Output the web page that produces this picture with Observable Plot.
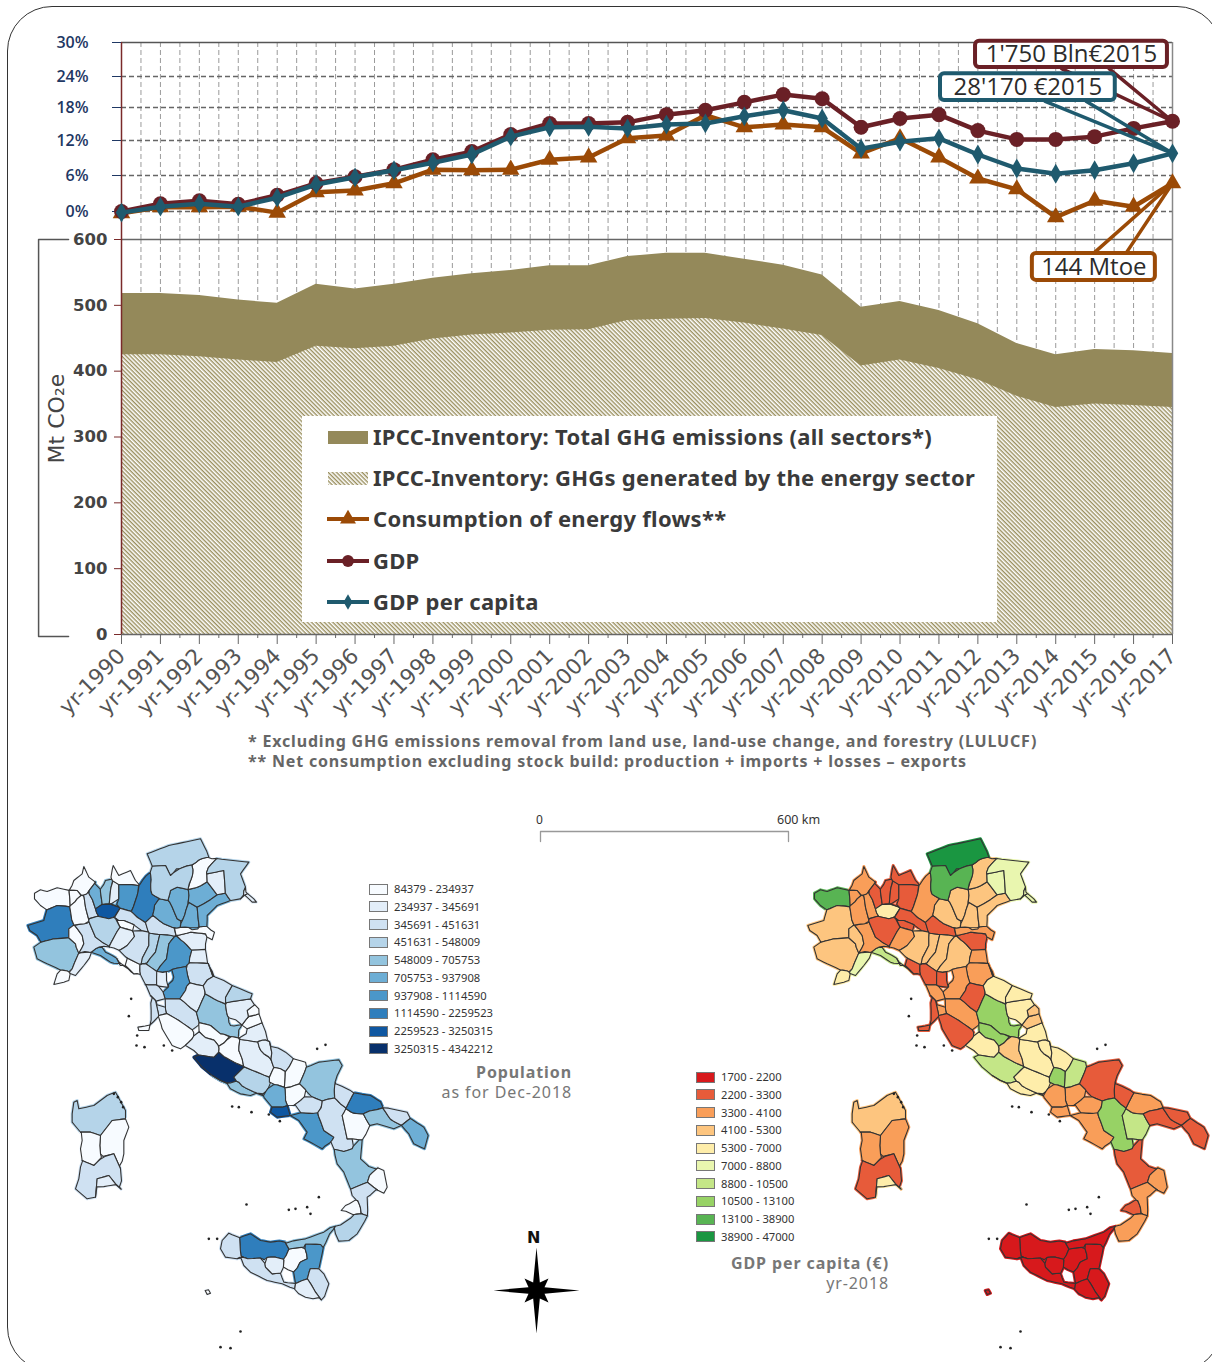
<!DOCTYPE html>
<html><head><meta charset="utf-8">
<script src="https://cdn.jsdelivr.net/npm/d3@7"></script>
<script src="https://cdn.jsdelivr.net/npm/@observablehq/plot@0.6"></script>
<style>
html,body{margin:0;padding:0;background:#fff;width:1212px;height:1362px;overflow:hidden;font-family:"Noto Sans",sans-serif}
#page{position:relative;width:1212px;height:1362px;overflow:hidden}
#frame{position:absolute;left:7px;top:6px;width:1215px;height:1366px;border:1.5px solid #333;border-radius:45px;box-sizing:border-box}
.layer{position:absolute}
.layer svg{background:transparent;overflow:visible;display:block}
.t{position:absolute;white-space:nowrap}
.sw{position:absolute;width:19px;height:11px;border:1px solid #777;box-sizing:border-box}
</style></head><body><div id="page"><div id="frame"></div></div>
<script>
const years=[1990,1991,1992,1993,1994,1995,1996,1997,1998,1999,2000,2001,2002,2003,2004,2005,2006,2007,2008,2009,2010,2011,2012,2013,2014,2015,2016,2017];
const gdp=[0,1.3,1.8,1.2,2.7,4.7,5.8,7.0,8.7,10.1,13.1,15.1,15.1,15.3,16.7,17.5,19.0,20.5,19.7,14.4,16.0,16.7,13.8,12.2,12.2,12.7,14.2,15.5];
const gdpPerCapita=[-0.2,0.8,1.3,0.8,2.3,4.5,5.7,6.9,8.2,9.6,12.7,14.4,14.5,14.2,14.9,15.1,16.4,17.5,16.0,10.6,11.8,12.4,9.6,7.2,6.3,6.9,8.1,9.8];
const energyUse=[-0.3,0.7,0.7,0.8,-0.2,3.2,3.5,4.7,7.0,6.9,7.0,8.7,9.1,12.4,12.9,16.6,14.4,14.9,14.4,9.8,12.4,9.1,5.5,3.7,-1.0,1.8,0.8,4.7];
const totalGhg=[518,518,515,508,503,532,525,532,541,548,553,560,560,574,579,579,570,561,546,497,506,492,472,442,425,433,431,427];
const energyGhg=[425,425,422,417,413,438,434,438,449,455,458,462,463,477,479,480,473,464,454,408,417,404,387,362,345,350,348,345];
const pctTicks=[0,6,12,18,24,30];
const mtTicks=[0,100,200,300,400,500,600];
const gridYears=years.flatMap((y,i)=>i<years.length-1?[y,y+0.5]:[y]);
const series=[{name:"Consumption of energy flows**",values:energyUse,color:"#9b4a06",symbol:"triangle",r:6.5},
 {name:"GDP",values:gdp,color:"#6a2026",symbol:"circle",r:7.5},
 {name:"GDP per capita",values:gdpPerCapita,color:"#1f5a6e",symbol:"diamond",r:6}];
const legendRows=[["IPCC-Inventory: Total GHG emissions (all sectors*)","area"],["IPCC-Inventory: GHGs generated by the energy sector","hatch"],
 ["Consumption of energy flows**",series[0]],["GDP",series[1]],["GDP per capita",series[2]]];
const callouts=[
 {text:"1'750 Bln€2015",color:"#6a2026",x1:2011.94,x2:2016.87,y1:25.6,y2:30.2,wedge:[[2014.15,25.4],[2017,15.5],[2015.37,25.4]]},
 {text:"28'170 €2015",color:"#1f5a6e",x1:2011.04,x2:2015.53,y1:19.35,y2:24.5,wedge:[[2013.73,19.2],[2017,9.8],[2014.78,19.2]]},
 {text:"144 Mtoe",color:"#9b4a06",x1:2013.4,x2:2016.56,y1:-12.3,y2:-7.5,wedge:[[2015.0,-7.3],[2017,4.7],[2015.82,-7.3]]}];
const footnotes=["* Excluding GHG emissions removal from land use, land-use change, and forestry (LULUCF)","** Net consumption excluding stock build: production + imports + losses – exports"];

const popLegend=["84379 - 234937","234937 - 345691","345691 - 451631","451631 - 548009","548009 - 705753","705753 - 937908","937908 - 1114590","1114590 - 2259523","2259523 - 3250315","3250315 - 4342212"];
const popColors=["#f7fbff","#e3eef9","#cfe1f2","#b5d4e9","#93c4de","#6daed5","#4b97c9","#2f7ebc","#0f57a1","#08306b"];
const gdpLegend=["1700 - 2200","2200 - 3300","3300 - 4100","4100 - 5300","5300 - 7000","7000 - 8800","8800 - 10500","10500 - 13100","13100 - 38900","38900 - 47000"];
const gdpColors=["#d7191c","#e75b3a","#f99e59","#fdc57f","#feedaa","#e9f6af","#c4e687","#97d265","#58b453","#1a9641"];

// province outlines: [name, population class, GDP class, x,y pairs]
const north=[
["Aosta",0,8,[42,188,60,178,80,183,110,172,140,178,148,205,145,228,110,225,80,237,60,225,42,205]],
["Torino",7,3,[22,285,70,270,78,240,110,225,145,228,152,255,155,282,145,295,145,322,100,325,60,335,50,315,28,300]],
["Cuneo",4,3,[40,350,62,335,100,325,145,322,165,340,172,372,155,415,120,418,80,400,50,385]],
["Imperia",0,4,[100,462,110,430,125,418,150,432,145,450,130,455]],
["Savona",1,5,[150,432,155,415,172,372,205,365,215,372,190,405,165,435]],
["Genova",5,6,[205,365,235,350,255,365,285,380,300,405,270,395,240,375,215,372]],
["La Spezia",0,5,[290,383,320,410,340,430,325,432,300,405]],
["Massa",0,1,[315,378,350,405,360,432,340,430,320,410]],
["Asti",0,3,[145,322,145,295,160,290,185,315,190,340,178,365,172,372,165,340]],
["Alessandria",2,2,[170,285,205,280,225,320,265,350,235,350,205,365,178,365,190,340,185,315]],
["VCO",0,2,[150,178,160,150,185,130,190,108,205,140,225,155,205,180,190,195,170,180]],
["Biella",0,2,[145,180,170,180,170,205,150,232,148,205]],
["Vercelli",0,2,[170,205,190,195,195,230,205,278,155,278,152,255,150,232]],
["Novara",2,2,[190,195,205,180,225,235,235,258,205,265,195,230]],
["Varese",5,1,[208,180,225,155,240,185,245,220,225,235]],
["Milano",8,4,[225,235,245,225,300,232,285,250,265,265,235,258]],
["Como",4,1,[245,220,240,185,255,150,270,140,270,180,265,215]],
["Lecco",1,1,[270,180,280,150,295,160,295,205,268,218]],
["Monza",5,1,[245,222,268,215,298,228,270,228]],
["Sondrio",0,1,[270,140,278,105,295,135,330,120,345,150,358,160,295,160,280,150]],
["Bergamo",6,1,[295,165,358,165,350,195,335,240,300,232,295,205]],
["Brescia",7,2,[358,160,385,125,395,145,388,190,418,205,402,225,400,255,375,275,345,255,325,240,335,240,350,195]],
["Cremona",2,1,[280,262,300,240,330,245,370,280,395,305,380,300,340,280,310,270]],
["Lodi",0,1,[280,262,310,270,340,285,335,295,310,295]],
["Pavia",3,1,[205,265,235,258,265,265,280,262,298,290,270,340,265,350,225,320]],
["Piacenza",1,2,[295,292,330,300,342,318,320,345,300,358,270,350,272,335]],
["Parma",2,3,[300,358,320,345,342,318,345,302,385,310,385,345,360,395,325,385,295,365]],
["Reggio E.",3,3,[385,310,418,312,405,365,375,400,358,395,385,345]],
["Modena",4,3,[418,312,465,310,445,340,438,385,410,418,390,405,375,400,405,365]],
["Bologna",6,3,[465,315,490,335,515,355,505,395,478,410,445,420,425,425,410,418,438,385,445,340]],
["Mantova",2,1,[378,270,395,255,430,280,475,310,465,318,418,312,385,305]],
["Ferrara",1,1,[465,318,510,305,555,310,555,355,515,360,490,335]],
["Rovigo",0,2,[465,295,490,290,530,295,560,292,582,305,575,328,555,310,510,305,465,318]],
["Verona",5,3,[400,255,402,225,418,205,450,218,470,265,478,290,430,280,395,255]],
["Vicenza",5,3,[450,180,470,170,505,180,498,220,490,265,470,265,450,218]],
["Padova",5,3,[490,265,505,215,530,230,535,285,480,290]],
["Treviso",5,3,[510,185,560,158,590,195,550,220,530,230,505,215]],
["Venezia",5,3,[530,230,550,220,590,195,615,190,630,210,590,225,560,255,560,280,535,290]],
["Belluno",0,3,[500,175,515,130,535,85,590,80,555,120,560,150,540,165]],
["Pordenone",1,5,[560,130,610,120,615,185,590,190,560,150]],
["Udine",3,5,[590,85,685,95,660,130,675,170,660,205,630,210,615,190,610,120,560,130,555,120]],
["Gorizia",1,5,[660,205,675,170,682,190,665,205]],
["Trieste",1,5,[682,190,700,205,708,215,695,215,680,200]],
["Bolzano",3,9,[380,70,445,45,540,25,565,75,510,100,465,110,450,135,435,105,395,105]],
["Trento",3,8,[395,110,435,105,450,135,510,105,520,135,500,175,470,170,450,180,435,212,395,190,388,160]],
["Ravenna",1,2,[510,360,555,358,562,398,535,400,505,395]],
["Forli",2,2,[500,405,530,395,562,398,578,440,555,445,540,470,500,450]],
["Rimini",1,2,[565,400,585,420,590,440,578,440]]];
const centre=[
["Lucca",2,1,[30,20,40,10,80,40,80,75,45,70,30,45]],
["Pistoia",1,1,[75,40,108,35,108,72,80,75]],
["Firenze",6,2,[125,25,165,22,178,60,165,90,145,115,100,115,95,95,120,80,130,50]],
["Pisa",2,2,[40,75,80,75,98,95,100,115,85,120,108,160,85,165,75,120,60,105]],
["Livorno",2,1,[60,105,75,120,85,165,62,192,62,150]],
["Siena",2,2,[108,115,145,115,165,125,195,160,205,188,185,208,145,180,110,158]],
["Grosseto",0,1,[85,165,108,160,145,180,185,208,190,230,170,250,150,265,125,255,95,205]],
["Arezzo",1,1,[165,75,200,70,225,85,215,120,200,155,170,135,150,115,165,90]],
["Perugia",4,7,[225,100,250,115,285,135,285,165,300,195,332,200,310,225,270,220,240,195,205,180,200,155,215,120]],
["Terni",0,7,[205,190,240,195,270,220,300,225,270,255,250,235,225,230,205,210]],
["Viterbo",1,4,[165,255,205,215,225,235,250,240,265,275,250,292,215,285,190,270]],
["Roma",9,6,[190,290,215,285,250,290,268,272,280,288,340,320,310,350,325,365,290,368,270,360,245,345,215,320]],
["Latina",4,4,[245,345,270,360,290,368,325,365,335,380,375,400,400,410,360,405,330,400,300,385]],
["Frosinone",3,4,[340,320,380,340,415,355,408,390,380,395,335,375,310,350]],
["Rieti",0,3,[270,255,328,225,325,270,345,320,320,310,280,288,265,275]],
["L'Aquila",1,4,[325,235,380,245,385,265,420,300,430,320,415,345,380,330,345,320,325,270]],
["Teramo",1,4,[347,220,350,205,395,188,415,238,385,240,380,245,325,235]],
["Ascoli",0,3,[335,190,350,175,385,160,395,185,350,205]],
["Fermo",0,3,[350,172,350,150,380,132,390,158]],
["Macerata",1,4,[295,120,310,125,360,115,370,130,350,150,350,172,335,190,295,165,285,135]],
["Ancona",3,4,[285,130,285,110,305,75,365,100,360,115,310,120]],
["Pesaro",2,4,[225,75,240,50,255,45,305,75,285,110,285,130,250,115,225,100]],
["Pescara",1,4,[385,240,415,238,425,290,420,298,390,270]],
["Chieti",2,4,[420,250,465,275,490,295,470,330,425,315,428,290]],
["Isernia",0,7,[428,325,450,325,465,350,455,375,420,365]],
["Campobasso",0,6,[488,295,525,305,525,325,505,370,465,385,465,345,470,330]],
["Foggia",4,1,[530,320,565,305,625,298,635,315,620,345,610,390,610,410,565,418,525,385,510,370]],
["Benevento",0,2,[465,385,505,370,525,390,520,415,490,435,465,420]],
["Caserta",5,2,[415,385,440,375,465,385,465,420,470,440,425,440,400,410]],
["Napoli",8,2,[425,440,470,440,478,465,440,470,420,455]],
["Avellino",2,2,[520,410,565,418,580,435,560,465,520,455,490,435]]];
const south=[
["Salerno",6,2,[120,225,165,220,195,215,220,270,250,290,215,325,180,305,160,295,170,275,145,240]],
["Potenza",2,7,[205,210,220,180,262,175,285,205,275,225,290,295,305,290,305,325,280,333,245,320,250,290,220,270]],
["Matera",0,6,[285,210,340,225,358,255,340,295,305,295,290,295,275,225]],
["Bari",7,2,[310,158,360,165,400,190,390,205,345,212,305,222,288,200]],
["BAT",2,1,[250,125,310,155,288,198,265,195,255,170]],
["Taranto",4,1,[345,215,395,205,420,240,455,258,430,265,380,250,358,255,340,225]],
["Brindisi",2,1,[400,200,470,215,480,232,450,250,420,235]],
["Lecce",5,1,[480,235,520,260,533,285,522,325,490,310,475,280,455,258]],
["Cosenza",4,1,[250,330,280,333,305,325,335,300,330,355,355,378,382,378,355,405,350,425,300,445,280,395,260,370]],
["Crotone",0,2,[382,385,400,390,410,440,400,458,378,445,352,428,358,405]],
["Vibo",0,1,[272,510,285,495,320,480,330,525,300,515]],
["Catanzaro",2,2,[300,448,350,425,380,450,350,470,352,522,340,510,325,480,305,465]],
["Reggio C.",3,2,[260,560,290,540,320,520,350,530,320,580,295,600,265,602,255,580]],
["Palermo",7,0,[-30,590,0,580,30,600,60,605,100,600,112,625,105,655,75,650,60,645,30,650,-5,655,-30,640]],
["Trapani",2,0,[-85,600,-65,578,-35,592,-30,640,-10,655,-35,655,-75,650,-90,625]],
["Agrigento",2,0,[-40,655,-5,655,30,655,45,680,65,700,90,700,100,725,135,730,130,745,95,730,50,720,0,695]],
["Caltanissetta",1,0,[50,655,75,650,100,660,95,695,65,700,45,680]],
["Enna",0,0,[100,655,120,625,165,628,170,655,145,665,145,690,125,695,100,680]],
["Messina",4,0,[105,605,165,595,220,575,248,555,220,620,210,612,165,610,115,625]],
["Catania",6,0,[165,612,210,612,218,625,205,685,180,680,165,710,135,728,130,690,150,665,172,655]],
["Siracusa",2,0,[180,685,205,685,220,700,235,730,218,780,195,755,175,720]],
["Ragusa",1,0,[135,730,165,720,175,720,195,755,210,780,165,770,135,755]]];
const island=[
["Sassari",3,3,[215,850,220,815,230,810,235,835,280,825,320,795,345,785,375,840,375,865,335,870,300,915,270,905,240,905,215,875]],
["Nuoro",0,2,[300,915,335,870,375,865,385,890,370,930,370,970,360,1015,340,970,300,970,298,945]],
["Oristano",0,2,[240,905,270,905,300,915,298,945,300,970,280,1005,245,990,240,955,245,930]],
["Sud Sardegna",2,1,[245,990,280,1005,340,970,360,1015,365,1075,345,1060,325,1035,290,1045,285,1100,260,1105,225,1075,235,1045,240,1010]],
["Cagliari",1,4,[290,1045,325,1035,345,1060,360,1078,330,1065,300,1070,285,1100]],
["Elba",0,1,[412,590,445,585,445,600,415,600]],
["Pantelleria",0,0,[614,1380,624,1378,630,1388,620,1392]]];
const islets=[[392,505],[385,557],[410,615],[408,645],[432,650],[490,645],[515,660],[950,655],[975,643],[695,828],[715,830],[753,845],[805,852],[838,872],[738,1122],[865,1138],[885,1135],[955,1100],[920,1130],[930,1150],[625,1225],[650,1225],[720,1503],[690,1553],[660,1550],[340,790],[352,800],[362,815],[368,830]];
const compass=[0,-129,10,-24,36,-36,24,-10,129,0,24,10,36,36,10,24,0,129,-10,24,-36,36,-24,10,-129,0,-24,-10,-36,-36,-10,-24];
const frames={north:[20,830],centre:[130,960],south:[250,1040],island:[0,830],compass:[536,1290]};

const toPts=(flat,f)=>{const r=[];for(let i=0;i<flat.length;i+=2)r.push([f[0]+flat[i]/3,f[1]+flat[i+1]/3]);return r;};
// neighbouring outlines were read separately: close the small gaps between them so that they share a border
const densify=(pts,step)=>pts.flatMap((p,i)=>{const q=pts[(i+1)%pts.length],n=Math.max(1,Math.ceil(Math.hypot(q[0]-p[0],q[1]-p[1])/step));
 return Array.from({length:n},(_,k)=>[p[0]+(q[0]-p[0])*k/n,p[1]+(q[1]-p[1])*k/n]);});
const nearest=(p,ring)=>{let best=null,bd=Infinity;for(let i=0;i<ring.length;i++){const a=ring[i],b=ring[(i+1)%ring.length],dx=b[0]-a[0],dy=b[1]-a[1],t=Math.max(0,Math.min(1,((p[0]-a[0])*dx+(p[1]-a[1])*dy)/(dx*dx+dy*dy||1))),x=a[0]+t*dx,y=a[1]+t*dy,d=Math.hypot(p[0]-x,p[1]-y);if(d<bd){bd=d;best=[x,y];}}return [best,bd];};
const weld=(rings,tol,rounds)=>{for(let r=0;r<rounds;r++){const old=rings.map(g=>g.map(p=>p.slice()));
 old.forEach((g,gi)=>g.forEach((p,pi)=>{let sx=p[0],sy=p[1],n=1;old.forEach((h,hi)=>{if(hi===gi)return;const [q,d]=nearest(p,h);if(d<tol){sx+=q[0];sy+=q[1];n++;}});rings[gi][pi]=[sx/n,sy/n];}));}return rings;};
const source=[...north.map(d=>[d,frames.north]),...centre.map(d=>[d,frames.centre]),...south.map(d=>[d,frames.south]),...island.map(d=>[d,frames.island])];
const welded=weld(source.map(([d,f])=>densify(toPts(d[3],f),5)),4.5,3);
const features=source.map(([d],i)=>({type:"Feature",properties:{name:d[0],pop:d[1],gd:d[2]},geometry:{type:"Polygon",coordinates:[[...welded[i],welded[i][0]]]}}));
const isletPts=islets.map(([x,y])=>[frames.island[0]+x/3,frames.island[1]+y/3]);

const page=document.getElementById("page");
const add=(el,left,topPx)=>{const d=document.createElement("div");d.className="layer";d.style.left=left+"px";d.style.top=topPx+"px";d.appendChild(el);page.appendChild(d);return d;};
const label=(s,css)=>{const d=document.createElement("div");d.className="t";d.textContent=s;d.style.cssText+=css;page.appendChild(d);return d;};
const rows=(arr)=>years.map((y,i)=>({year:y,value:arr[i]}));
const tbl=years.map((y,i)=>({year:y,total:totalGhg[i],energy:energyGhg[i]}));

const hatchDefs=()=>{const s=d3.create("svg:defs");
 const p=s.append("pattern").attr("id","hatch").attr("patternUnits","userSpaceOnUse").attr("width",3).attr("height",3).attr("patternTransform","rotate(45)");
 p.append("rect").attr("width",3).attr("height",3).attr("fill","#fff");
 p.append("rect").attr("width",3).attr("height",1.4).attr("fill","#9a8f5e");
 return s.node();};

// bottom panel: emissions
const xDomain=[1990,2017], xRange=[121,1172];
const bottomPlot=Plot.plot({width:1212,height:720,marginLeft:121,marginRight:40,marginTop:239,marginBottom:86,
 style:{background:"transparent",overflow:"visible"},
 x:{domain:xDomain,range:xRange},y:{domain:[0,600]},
 marks:[hatchDefs,
  Plot.ruleX(gridYears,{stroke:"#9a9a9a",strokeDasharray:"5,3",strokeWidth:1}),
  Plot.areaY(tbl,{x:"year",y:"total",fill:"#94895a"}),
  Plot.areaY(tbl,{x:"year",y:"energy",fill:"url(#hatch)"}),
  Plot.ruleY([0],{stroke:"#666",strokeWidth:1.5}),
  Plot.ruleY([600],{stroke:"#666",strokeWidth:1.5}),
  Plot.ruleX([2017],{stroke:"#888",strokeWidth:1.5}),
  Plot.ruleX([1990],{stroke:"#7a2a2a",strokeWidth:1.5}),
  Plot.axisY({ticks:mtTicks,tickSize:7,tickPadding:7,fontSize:16.5,fontWeight:"bold",stroke:"#7a2a2a",fill:"#444",fontFamily:"DejaVu Sans",label:null}),
  Plot.axisX({ticks:gridYears.filter(d=>d%1),tickSize:4,stroke:"#666",text:null,label:null}),
  Plot.axisX({ticks:years,tickSize:10,stroke:"#666",tickRotate:-45,tickFormat:d=>"yr-"+d,fontSize:21.5,fill:"#555",fontFamily:"DejaVu Sans",tickPadding:8,label:null}),
  Plot.line([[1988.64,600],[1987.87,600],[1987.87,-3],[1988.64,-3]],{stroke:"#555",strokeWidth:1.5}),
  Plot.text(["Mt CO₂e"],{x:1988.33,y:328,rotate:-90,fontSize:22,fill:"#444",fontFamily:"DejaVu Sans"})
 ]});
add(bottomPlot,0,0);

// top panel: percentage changes
const topPlot=Plot.plot({width:1212,height:289,marginLeft:121,marginRight:40,marginTop:42,marginBottom:50,
 style:{background:"transparent",overflow:"visible"},
 x:{domain:xDomain,range:xRange,axis:null},y:{type:"linear",domain:[-5,0,6,12,18,24,30],range:[239,211,175,140,107,76,42]},
 marks:[
  Plot.ruleX(gridYears,{y1:-5,y2:30,stroke:"#9a9a9a",strokeDasharray:"5,3",strokeWidth:1}),
  Plot.ruleY(pctTicks.slice(0,-1),{stroke:"#666",strokeDasharray:"5,3",strokeWidth:1.3}),
  Plot.ruleY([30],{stroke:"#555",strokeWidth:1.5}),
  Plot.ruleX([2017],{y1:-5,y2:30,stroke:"#888",strokeWidth:1.5}),
  Plot.ruleX([1990],{y1:-5,y2:30,stroke:"#7a2a2a",strokeWidth:1.5}),
  Plot.axisY({ticks:pctTicks,tickSize:9,tickPadding:24,tickFormat:d=>d+"%",fontSize:16,fontWeight:600,stroke:"#1f3864",fill:"#1f3864",fontFamily:"Open Sans",label:null}),
  ...series.flatMap(s=>[
   Plot.line(rows(s.values),{x:"year",y:"value",stroke:s.color,strokeWidth:4.5}),
   Plot.dot(rows(s.values),{x:"year",y:"value",fill:s.color,symbol:s.symbol,r:s.r})]),
  ...callouts.flatMap(c=>[
   Plot.line(c.wedge,{stroke:c.color,strokeWidth:3.5}),
   Plot.rect([c],{x1:"x1",x2:"x2",y1:"y1",y2:"y2",fill:"#fff",stroke:c.color,strokeWidth:4,rx:4}),
   Plot.text([c],{x:d=>(d.x1+d.x2)/2,y:d=>(d.y1+d.y2)/2,text:"text",fontSize:24,fill:"#2b2b2b",fontFamily:"Open Sans",letterSpacing:"1.9px"})])
 ]});
add(topPlot,0,0);

// legend of the chart
const lg=document.createElement("div");
lg.style.cssText="position:absolute;left:302px;top:416px;width:695px;height:206px;background:#fff";
page.appendChild(lg);
legendRows.forEach(([name,kind],i)=>{
 const cy=21+i*41.2;
 const svgNS="http://www.w3.org/2000/svg";
 const s=document.createElementNS(svgNS,"svg");
 s.setAttribute("width",44);s.setAttribute("height",24);
 s.style.cssText=`position:absolute;left:25px;top:${cy-12}px`;
 if(kind==="area"||kind==="hatch"){
  const r=document.createElementNS(svgNS,"rect");
  r.setAttribute("x",1);r.setAttribute("y",6);r.setAttribute("width",40);r.setAttribute("height",13);
  r.setAttribute("fill",kind==="area"?"#94895a":"url(#hatch)");s.appendChild(r);
 } else {
  const l=document.createElementNS(svgNS,"line");
  l.setAttribute("x1",0);l.setAttribute("x2",42);l.setAttribute("y1",12);l.setAttribute("y2",12);
  l.setAttribute("stroke",kind.color);l.setAttribute("stroke-width",4);s.appendChild(l);
  const m=document.createElementNS(svgNS,"path");
  const sym={triangle:d3.symbolTriangle,circle:d3.symbolCircle,diamond:d3.symbolDiamond}[kind.symbol];
  m.setAttribute("d",d3.symbol(sym,kind.symbol==="diamond"?70:110)());m.setAttribute("transform","translate(21,12)");m.setAttribute("fill",kind.color);s.appendChild(m);
 }
 lg.appendChild(s);
 const t=document.createElement("div");t.className="t";t.textContent=name;
 t.style.cssText=`position:absolute;left:71px;top:${cy-16}px;font:bold 22px/30px "Noto Sans";color:#3a3a3a;letter-spacing:.28px`;
 lg.appendChild(t);
});

footnotes.forEach((f,i)=>label(f,`left:248px;top:${731+i*20}px;font:bold 16px/20px "Noto Sans";color:#666;letter-spacing:.82px`));

// maps
const transform=()=>d3.geoTransform({point(x,y){this.stream.point(x,y-800);}});
const mapPlot=(legend,colors,key,extra,w)=>Plot.plot({width:w,height:562,margin:0,projection:transform,
 style:{background:"transparent",overflow:"visible"},
 color:{type:"ordinal",domain:legend,range:colors},
 marks:[
  Plot.geo(features,{fill:d=>legend[d.properties[key]],stroke:d=>legend[d.properties[key]],strokeWidth:3}),
  Plot.geo(features,{fill:d=>legend[d.properties[key]],stroke:"#333",strokeWidth:1.1}),
  Plot.dot(isletPts,{x:d=>d[0],y:d=>d[1],r:1.3,fill:"#222"}),
  ...extra]});
const star={type:"Feature",geometry:{type:"Polygon",coordinates:[[...toPts(compass,frames.compass),toPts(compass,frames.compass)[0]]]}};
add(mapPlot(popLegend,popColors,"pop",[Plot.geo([star],{fill:"#000"})],600),0,800);
add(mapPlot(gdpLegend,gdpColors,"gd",[],432),780,800);
label("N",`left:527px;top:1228px;font:bold 16px/20px "DejaVu Sans";color:#111`);

// scale bar
const bar=Plot.plot({width:280,height:40,margin:0,marginLeft:10,marginRight:22,style:{background:"transparent",overflow:"visible"},
 x:{domain:[0,600],axis:null},y:{domain:[1,0],range:[21,11],axis:null},
 marks:[Plot.line([[0,1],[0,0],[600,0],[600,1]],{stroke:"#999",strokeWidth:1.3})]});
add(bar,530,820);
label("0","left:536px;top:812px;font:12px/16px 'Noto Sans';color:#333");
label("600 km","left:777px;top:812px;font:12.5px/16px 'Noto Sans';color:#333");

const mapLegend=(legend,colors,left,topPx)=>legend.forEach((l,i)=>{
 const y=topPx+i*17.75;
 const sw=document.createElement("div");sw.className="sw";sw.style.left=left+"px";sw.style.top=(y-5.5)+"px";sw.style.background=colors[i];page.appendChild(sw);
 label(l,`left:${left+25}px;top:${y-8}px;font:11.2px/16px "Noto Sans";color:#333`);
});
mapLegend(popLegend,popColors,369,889);
mapLegend(gdpLegend,gdpColors,696,1077);
const ttl=(s,right,y,w)=>label(s,`right:${1212-right}px;top:${y-11}px;font:${w} 16px/22px "Noto Sans";color:#777;letter-spacing:.9px`);
ttl("Population",572,1072,"bold");ttl("as for Dec-2018",572,1092,"normal");
ttl("GDP per capita (€)",889,1263,"bold");ttl("yr-2018",889,1283,"normal");
</script></body></html>
